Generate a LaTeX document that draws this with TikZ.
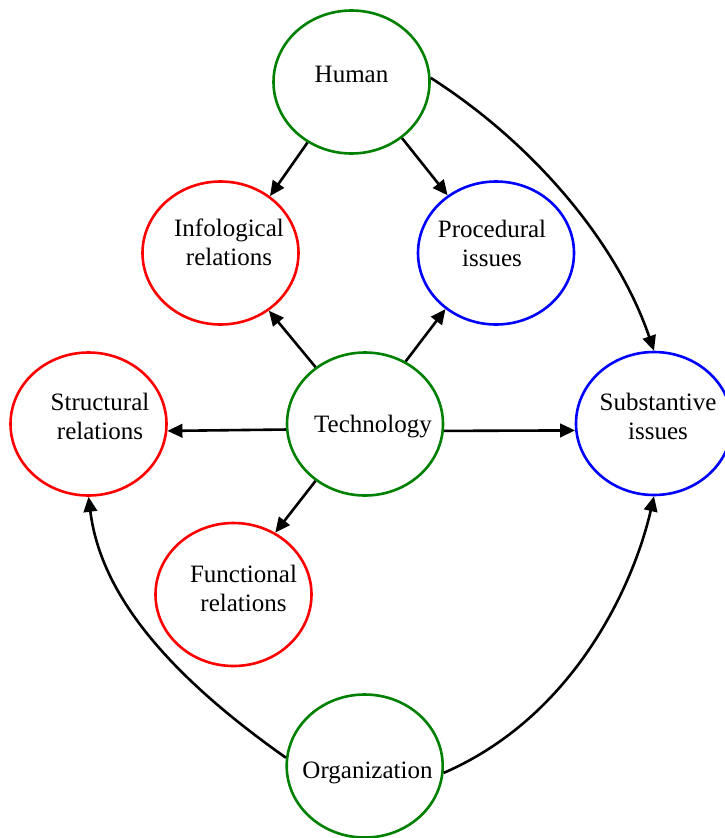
\documentclass[tikz,border=0pt]{standalone}
\usepackage{fontspec}
\setmainfont{Liberation Serif}
\usetikzlibrary{arrows.meta,shapes.geometric}
\definecolor{humgreen}{RGB}{0,128,0}
\definecolor{relred}{RGB}{255,0,0}
\definecolor{issblue}{RGB}{0,0,255}
\begin{document}
\begin{tikzpicture}[x=1pt,y=-1pt,
  bubble/.style={ellipse, draw, line width=2.6pt, minimum width=156pt,
    minimum height=143pt, inner sep=0pt},
  factor/.style={bubble, draw=humgreen},
  relation/.style={bubble, draw=relred},
  issue/.style={bubble, draw=issblue},
  lbl/.style={anchor=base, inner sep=0pt, font=\fontsize{25}{29}\selectfont},
  link/.style={line width=2.6pt, -{Triangle[length=15pt,width=13.5pt]}}]
\useasboundingbox (0,0) rectangle (725,838);

% ellipses
\node[factor]   (human) at (351.5,82)  {};
\node[relation] (info)  at (220.5,253) {};
\node[issue]    (proc)  at (496,253)   {};
\node[relation] (struc) at (88.5,424)  {};
\node[factor]   (tech)  at (365,424)   {};
\node[issue]    (subst) at (654,423.5) {};
\node[relation] (func)  at (233.5,594.5) {};
\node[factor]   (org)   at (364.7,766) {};

% labels
\node[lbl] (humanT)  at (351.5,82)    {Human};
\node[lbl] (infoT1)  at (229,236.7)   {Infological};
\node[lbl] (infoT2)  at (229,265.7)   {relations};
\node[lbl] (procT1)  at (492,237)     {Procedural};
\node[lbl] (procT2)  at (492,266)     {issues};
\node[lbl] (strucT1) at (100,410)     {Structural};
\node[lbl] (strucT2) at (100,439)     {relations};
\node[lbl] (techT)   at (373,432)     {Technology};
\node[lbl] (substT1) at (658,410)     {Substantive};
\node[lbl] (substT2) at (658,439)     {issues};
\node[lbl] (funcT1)  at (243.5,582.7) {Functional};
\node[lbl] (funcT2)  at (243.5,611.7) {relations};
\node[lbl] (orgT)    at (367.5,778)   {Organization};

% straight connectors
\draw[link] (human.234.6) -- (info.49.5);
\draw[link] (human.312.2) -- (proc.130.4);
\draw[link] (tech.131.4)  -- (info.310);
\draw[link] (tech.57.3)   -- (proc.228.6);
\draw[link] (tech.229)    -- (func.56.7);
\draw[link] (tech.184.3)  -- (struc.355.7);
\draw[link] (tech.355.7)  -- (subst.185.4);

% curved connectors
\draw[link] (human.3.8) .. controls +(99.3,63.3) and +(-38.3,-111.7) .. (subst.90.6);
\draw[link] (org.174.9) .. controls +(-126,-89) and +(11.7,92.7) .. (struc.270);
\draw[link] (org.355.9) .. controls +(131,-56.7) and +(-20.3,88.3) .. (subst.270);
\end{tikzpicture}
\end{document}
